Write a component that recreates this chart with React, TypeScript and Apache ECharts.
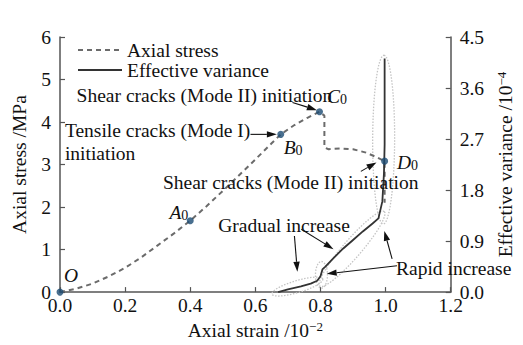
import React, { useEffect, useRef } from "react";
import * as echarts from "echarts";

const FONT = '"Liberation Serif", "Times New Roman", serif';
const FS = 19.5;

// Axes
const xMin = 0, xMax = 1.2, xStep = 0.2;
const stressMin = 0, stressMax = 6, stressStep = 1;
const varMin = 0, varMax = 4.5, varStep = 0.9;

// Axial stress curve (strain /1e-2, stress MPa)
const stressStrain = [0, 0.05, 0.1, 0.15, 0.2, 0.25, 0.3, 0.35, 0.4, 0.45, 0.5, 0.55, 0.6, 0.65, 0.678, 0.72, 0.76, 0.797, 0.812, 0.812, 0.825, 0.86, 0.9, 0.94, 0.97, 0.997, 0.997];
const stressValues = [0, 0.08, 0.2, 0.37, 0.57, 0.82, 1.1, 1.38, 1.68, 2.02, 2.38, 2.75, 3.12, 3.5, 3.71, 3.93, 4.1, 4.24, 4.15, 3.4, 3.36, 3.38, 3.36, 3.28, 3.18, 3.08, 2.1];

// Effective variance curve (strain /1e-2, variance /1e-4)
const varianceStrain = [0.67, 0.7, 0.74, 0.77, 0.79, 0.8, 0.806, 0.815, 0.84, 0.87, 0.9, 0.93, 0.96, 0.978, 0.99, 0.995, 0.997, 0.997];
const varianceValues = [0, 0.05, 0.1, 0.15, 0.2, 0.28, 0.4, 0.45, 0.6, 0.77, 0.92, 1.07, 1.21, 1.3, 1.6, 2.1, 2.6, 4.12];

// Key points on the stress curve
const keyStrain = [0, 0.4, 0.678, 0.797, 0.997];
const keyStress = [0, 1.68, 3.71, 4.24, 3.08];
const keyLabels = ["{i|O}", "{i|A}{s|0}", "{i|B}{s|0}", "{i|C}{s|0}", "{i|D}{s|0}"];
const keyLabelStrain = [0.012, 0.336, 0.687, 0.82, 1.035];
const keyLabelStress = [0.38, 1.88, 3.4, 4.6, 3.05];

// Highlight zones: [strain1, var1, strain2, var2, halfWidthPx]
const zones = [
  [0.651, -0.035, 0.807, 0.23, 6],
  [0.803, 0.07, 0.803, 0.54, 6],
  [0.798, 0.105, 0.996, 1.42, 9],
  [0.993, 1.2, 0.995, 4.18, 11],
];

// Text notes (strain, stress anchor)
const noteTexts = [
  "Shear cracks (Mode II) initiation",
  "Tensile cracks (Mode I)",
  "initiation",
  "Shear cracks (Mode II) initiation",
  "Gradual increase",
  "Rapid increase",
];
const noteStrain = [0.051, 0.015, 0.015, 1.101, 0.486, 1.032];
const noteStress = [4.63, 3.8, 3.26, 2.585, 1.577, 0.546];
const noteAlign = ["left", "left", "left", "right", "left", "left"];

// Arrows: from (strain, stress) to (strain, stress)
const arrowFromStrain = [0.714, 0.585, 0.924, 0.72, 0.741, 1.02, 1.035];
const arrowFromStress = [4.46, 3.71, 2.84, 1.32, 1.48, 0.78, 0.62];
const arrowToStrain = [0.789, 0.666, 0.972, 0.729, 0.84, 0.996, 0.819];
const arrowToStress = [4.28, 3.71, 3.05, 0.48, 1.01, 1.44, 0.43];

const axisCommon = {
  axisLine: { show: true, lineStyle: { color: "#555", width: 1.5 } },
  axisTick: { show: true, inside: true, length: 5, lineStyle: { color: "#555", width: 1.2 } },
  splitLine: { show: false },
};

export default function App() {
  const ref = useRef<HTMLDivElement>(null);
  useEffect(() => {
    if (!ref.current) return;
    const chart = echarts.init(ref.current, null, { renderer: "svg" });
    const sup = { fontSize: 13, fontFamily: FONT, color: "#111", verticalAlign: "top", lineHeight: 12 };
    chart.setOption({
      animation: false,
      textStyle: { fontFamily: FONT },
      grid: { left: 60, right: 63, top: 37, bottom: 52 },
      legend: {
        orient: "vertical",
        left: 77,
        top: 40,
        padding: 0,
        itemWidth: 44,
        itemHeight: 14,
        itemGap: 0,
        itemStyle: { opacity: 0 },
        data: ["Axial stress", "Effective variance"],
        textStyle: { fontFamily: FONT, fontSize: FS, color: "#111", lineHeight: 20 },
      },
      xAxis: {
        type: "value",
        min: xMin,
        max: xMax,
        interval: xStep,
        ...axisCommon,
        axisLabel: { fontSize: FS, color: "#111", margin: 3, fontFamily: FONT, formatter: (v: number) => v.toFixed(1) },
        name: "{a|Axial strain /10}{b|−2}",
        nameLocation: "middle",
        nameGap: 22,
        nameTextStyle: {
          rich: {
            a: { fontSize: FS, fontFamily: FONT, color: "#111", lineHeight: 20, verticalAlign: "bottom" },
            b: sup,
          },
        },
      },
      yAxis: [
        {
          type: "value",
          min: stressMin,
          max: stressMax,
          interval: stressStep,
          ...axisCommon,
          axisLabel: { fontSize: FS, color: "#111", margin: 9, fontFamily: FONT },
          name: "Axial stress /MPa",
          nameLocation: "middle",
          nameGap: 31,
          nameTextStyle: { fontSize: FS, fontFamily: FONT, color: "#111" },
        },
        {
          type: "value",
          position: "right",
          min: varMin,
          max: varMax,
          interval: varStep,
          ...axisCommon,
          axisLabel: { fontSize: FS, color: "#111", margin: 9, fontFamily: FONT, formatter: (v: number) => v.toFixed(1) },
          name: "{a|Effective variance /10}{b|−4}",
          nameLocation: "middle",
          nameGap: 41,
          nameTextStyle: {
            rich: {
              a: { fontSize: FS, fontFamily: FONT, color: "#111", lineHeight: 20, verticalAlign: "bottom" },
              b: sup,
            },
          },
        },
      ],
      series: [
        {
          type: "custom",
          name: "zones",
          xAxisIndex: 0,
          yAxisIndex: 1,
          silent: true,
          z: 1,
          encode: { x: [0, 2], y: [1, 3] },
          data: zones,
          renderItem: (_p: any, api: any) => {
            const a = api.coord([api.value(0), api.value(1)]);
            const b = api.coord([api.value(2), api.value(3)]);
            const hw = api.value(4);
            const cx = (a[0] + b[0]) / 2, cy = (a[1] + b[1]) / 2;
            const dx = b[0] - a[0], dy = b[1] - a[1];
            const L = Math.sqrt(dx * dx + dy * dy) / 2;
            const ux = dx / (2 * L), uy = dy / (2 * L);
            const pts: number[][] = [];
            for (let k = 0; k < 48; k++) {
              const t = (k / 48) * Math.PI * 2;
              const p = Math.cos(t) * L, q = Math.sin(t) * hw;
              pts.push([cx + p * ux - q * uy, cy + p * uy + q * ux]);
            }
            return {
              type: "polygon",
              shape: { points: pts },
              style: { fill: "none", stroke: "#c4c4c4", lineWidth: 1.3, lineDash: [1.5, 1.5] },
            };
          },
        },
        {
          type: "line",
          name: "Axial stress",
          xAxisIndex: 0,
          yAxisIndex: 0,
          symbol: "none",
          z: 2,
          data: stressStrain.map((x, i) => [x, stressValues[i]]),
          lineStyle: { color: "#6b6b6b", width: 2, type: [5, 4] },
          itemStyle: { color: "#6b6b6b" },
        },
        {
          type: "line",
          name: "Effective variance",
          xAxisIndex: 0,
          yAxisIndex: 1,
          symbol: "none",
          z: 3,
          data: varianceStrain.map((x, i) => [x, varianceValues[i]]),
          lineStyle: { color: "#333", width: 1.8 },
          itemStyle: { color: "#333" },
        },
        {
          type: "scatter",
          name: "key",
          xAxisIndex: 0,
          yAxisIndex: 0,
          symbolSize: 7,
          z: 5,
          clip: false,
          data: keyStrain.map((x, i) => [x, keyStress[i]]),
          itemStyle: { color: "#1c4b73" },
        },
      ],
    });

    const px = (x: number, y: number) => chart.convertToPixel({ xAxisIndex: 0, yAxisIndex: 0 }, [x, y]) as number[];
    const richLbl = {
      i: { fontSize: FS, fontStyle: "italic", fontFamily: FONT, fill: "#111", lineHeight: 20, verticalAlign: "top" },
      s: { fontSize: 14, fontFamily: FONT, fill: "#111", lineHeight: 20, verticalAlign: "bottom", padding: [6, 0, 0, 0] },
    };
    const graphics: any[] = [];
    noteTexts.forEach((t, i) => {
      const p = px(noteStrain[i], noteStress[i]);
      graphics.push({
        type: "text",
        x: p[0],
        y: p[1],
        z: 10,
        style: { text: t, fontSize: FS, fontFamily: FONT, fill: "#111", align: noteAlign[i], verticalAlign: "middle" },
      });
    });
    keyLabels.forEach((t, i) => {
      const p = px(keyLabelStrain[i], keyLabelStress[i]);
      graphics.push({
        type: "text",
        x: p[0],
        y: p[1],
        z: 10,
        style: { text: t, rich: richLbl, fontSize: FS, fontFamily: FONT, fill: "#111", align: "left", verticalAlign: "middle" },
      });
    });
    arrowFromStrain.forEach((_, i) => {
      const a = px(arrowFromStrain[i], arrowFromStress[i]);
      const b = px(arrowToStrain[i], arrowToStress[i]);
      const dx = b[0] - a[0], dy = b[1] - a[1];
      const len = Math.sqrt(dx * dx + dy * dy);
      const ux = dx / len, uy = dy / len;
      const hl = 10, hw = 3.2;
      const bx = b[0] - ux * hl, by = b[1] - uy * hl;
      graphics.push({
        type: "line",
        z: 9,
        shape: { x1: a[0], y1: a[1], x2: bx, y2: by },
        style: { stroke: "#111", lineWidth: 1.1 },
      });
      graphics.push({
        type: "polygon",
        z: 9,
        shape: { points: [[b[0], b[1]], [bx - uy * hw, by + ux * hw], [bx + uy * hw, by - ux * hw]] },
        style: { fill: "#111" },
      });
    });
    chart.setOption({ graphic: graphics });
    return () => chart.dispose();
  }, []);
  return <div ref={ref} style={{ width: 523, height: 345, position: "absolute", left: 0, top: 0, background: "#fff" }} />;
}
